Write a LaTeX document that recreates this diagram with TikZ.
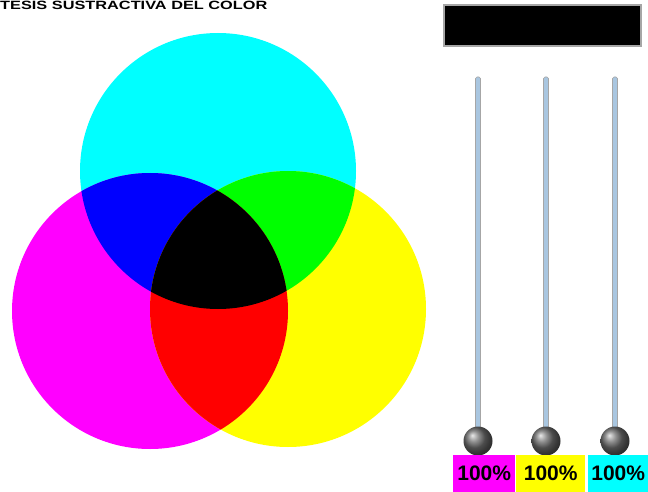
\documentclass[tikz,border=0pt]{standalone}
\usepackage{fontspec}
\setsansfont{Liberation Sans}
\usetikzlibrary{positioning,calc}
\definecolor{cyanpur}{HTML}{00FFFF}
\definecolor{magpur}{HTML}{FF00FF}
\definecolor{jaunepur}{HTML}{FFFF00}
\definecolor{rail}{HTML}{A9C6E0}

\begin{document}
\begin{tikzpicture}[
  x=1pt, y=-1pt,
  font=\sffamily,
  rail/.style={draw=gray!70, fill=rail, rounded corners=1.5pt, line width=0.6pt},
  knob/.style={circle, minimum size=29pt, inner sep=0pt, ball color=gray!85!black},
  pct/.style={minimum height=37pt, inner sep=0pt, anchor=north west, font=\sffamily\bfseries\fontsize{21}{21}\selectfont}
]
\useasboundingbox (0,0) rectangle (648,492);
% title
\node[anchor=north west, inner sep=0pt, font=\sffamily\bfseries\fontsize{12}{12}\selectfont] (titre) at (0,0.5) {\scalebox{1.36}[1]{TESIS SUSTRACTIVA DEL COLOR}};

% circles
\coordinate (c) at (218,171);
\coordinate (m) at (150,311);
\coordinate (y) at (288,309);
\def\r{138}
\fill[cyanpur] (c) circle (\r);
\fill[magpur] (m) circle (\r);
\fill[jaunepur] (y) circle (\r);
\begin{scope}
  \clip (c) circle (\r);
  \fill[blue] (m) circle (\r);
  \fill[green] (y) circle (\r);
\end{scope}
\begin{scope}
  \clip (m) circle (\r);
  \fill[red] (y) circle (\r);
  \clip (c) circle (\r);
  \fill[black] (y) circle (\r);
\end{scope}

% result box
\draw[gray!70, line width=1.5pt, fill=black] (444,5) rectangle (641,46);

% sliders
\foreach \nom/\xx in {mag/478,jaune/546,cyan/615} {
  \draw[rail] (\xx-2.5,77) rectangle (\xx+2.5,430);
  \node[knob] (knob\nom) at (\xx,441) {};
}

% percentages
\node[pct, fill=magpur, minimum width=62pt] (pmag) at (453,455) {100\%};
\node[pct, fill=jaunepur, minimum width=69pt] (pjaune) at (516,455) {100\%};
\node[pct, fill=cyanpur, minimum width=60pt] (pcyan) at (588,455) {100\%};
\end{tikzpicture}
\end{document}
